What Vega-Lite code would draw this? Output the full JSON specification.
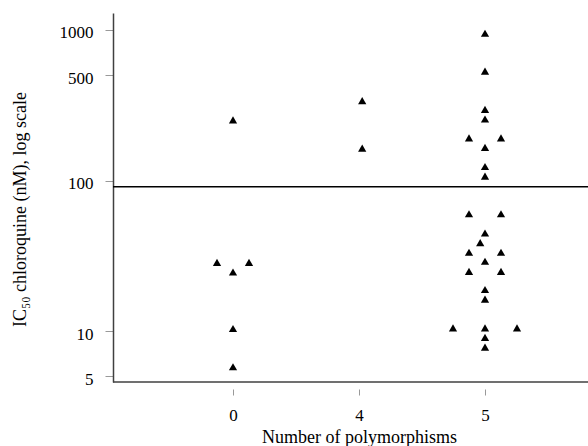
{
  "$schema": "https://vega.github.io/schema/vega-lite/v6.json",
  "autosize": "none",
  "width": 475,
  "height": 369,
  "padding": {"left": 113, "top": 13, "right": 0, "bottom": 64},
  "background": "white",
  "config": {
    "view": {"stroke": null},
    "font": "Liberation Serif",
    "axis": {"labelFont": "Liberation Serif", "titleFont": "Liberation Serif", "labelFontSize": 17, "titleFontSize": 18, "titleFontWeight": "normal", "labelColor": "black", "titleColor": "black", "grid": false}
  },
  "datasets": {
    "isolates": [
      {"polymorphisms": "0", "slot": 0, "ic50": 253},
      {"polymorphisms": "0", "slot": -1, "ic50": 28.6},
      {"polymorphisms": "0", "slot": 1, "ic50": 28.6},
      {"polymorphisms": "0", "slot": 0, "ic50": 24.7},
      {"polymorphisms": "0", "slot": 0, "ic50": 10.4},
      {"polymorphisms": "0", "slot": 0, "ic50": 5.8},
      {"polymorphisms": "4", "slot": 0.2, "ic50": 339},
      {"polymorphisms": "4", "slot": 0.2, "ic50": 164},
      {"polymorphisms": "5", "slot": 0, "ic50": 951},
      {"polymorphisms": "5", "slot": 0, "ic50": 533},
      {"polymorphisms": "5", "slot": 0, "ic50": 297},
      {"polymorphisms": "5", "slot": 0, "ic50": 256},
      {"polymorphisms": "5", "slot": -1, "ic50": 192},
      {"polymorphisms": "5", "slot": 1, "ic50": 192},
      {"polymorphisms": "5", "slot": 0, "ic50": 166},
      {"polymorphisms": "5", "slot": 0, "ic50": 124},
      {"polymorphisms": "5", "slot": 0, "ic50": 107},
      {"polymorphisms": "5", "slot": -1, "ic50": 60.2},
      {"polymorphisms": "5", "slot": 1, "ic50": 60.2},
      {"polymorphisms": "5", "slot": 0, "ic50": 44.8},
      {"polymorphisms": "5", "slot": -0.3, "ic50": 38.7},
      {"polymorphisms": "5", "slot": -1, "ic50": 33.4},
      {"polymorphisms": "5", "slot": 1, "ic50": 33.4},
      {"polymorphisms": "5", "slot": 0, "ic50": 29.1},
      {"polymorphisms": "5", "slot": -1, "ic50": 24.9},
      {"polymorphisms": "5", "slot": 1, "ic50": 24.9},
      {"polymorphisms": "5", "slot": 0, "ic50": 18.9},
      {"polymorphisms": "5", "slot": 0, "ic50": 16.3},
      {"polymorphisms": "5", "slot": -2, "ic50": 10.5},
      {"polymorphisms": "5", "slot": 0, "ic50": 10.5},
      {"polymorphisms": "5", "slot": 2, "ic50": 10.5},
      {"polymorphisms": "5", "slot": 0, "ic50": 9.08},
      {"polymorphisms": "5", "slot": 0, "ic50": 7.83}
    ],
    "threshold": [{"cutoff": 91}],
    "baseline": [{"floor": 4.59}]
  },
  "layer": [
    {
      "data": {"name": "baseline"},
      "mark": {"type": "rule", "color": "#404040", "strokeWidth": 1.5},
      "encoding": {"y": {"field": "floor", "type": "quantitative", "scale": {"type": "log", "domain": [4.59, 1296], "nice": false},
          "axis": {"title": "IC₅₀ chloroquine (nM), log scale", "values": [5, 10, 100, 500, 1000], "format": "d", "domainColor": "#404040", "domainWidth": 1.5, "tickColor": "#999999", "tickSize": 8, "labelPadding": 12, "labelOffset": 3, "titleX": -93, "titleY": 196, "titleAlign": "center", "titleBaseline": "middle"}}}
    },
    {
      "data": {"name": "threshold"},
      "mark": {"type": "rule", "color": "black", "strokeWidth": 1.5},
      "encoding": {"y": {"field": "cutoff", "type": "quantitative"}}
    },
    {
      "data": {"name": "isolates"},
      "mark": {"type": "point", "shape": "triangle-up", "filled": true, "color": "black", "opacity": 1, "size": 68},
      "encoding": {
        "x": {"field": "polymorphisms", "type": "ordinal", "scale": {"type": "point", "domain": ["0", "4", "5"], "range": [120, 372], "padding": 0},
          "axis": {"title": "Number of polymorphisms", "labelAngle": 0, "domain": false, "offset": 7, "tickSize": 6, "tickColor": "#999999", "labelPadding": 12, "titlePadding": 5}},
        "xOffset": {"field": "slot", "type": "quantitative", "scale": {"domain": [-2, 2], "range": [-32, 32]}},
        "y": {"field": "ic50", "type": "quantitative"}
      }
    }
  ]
}
